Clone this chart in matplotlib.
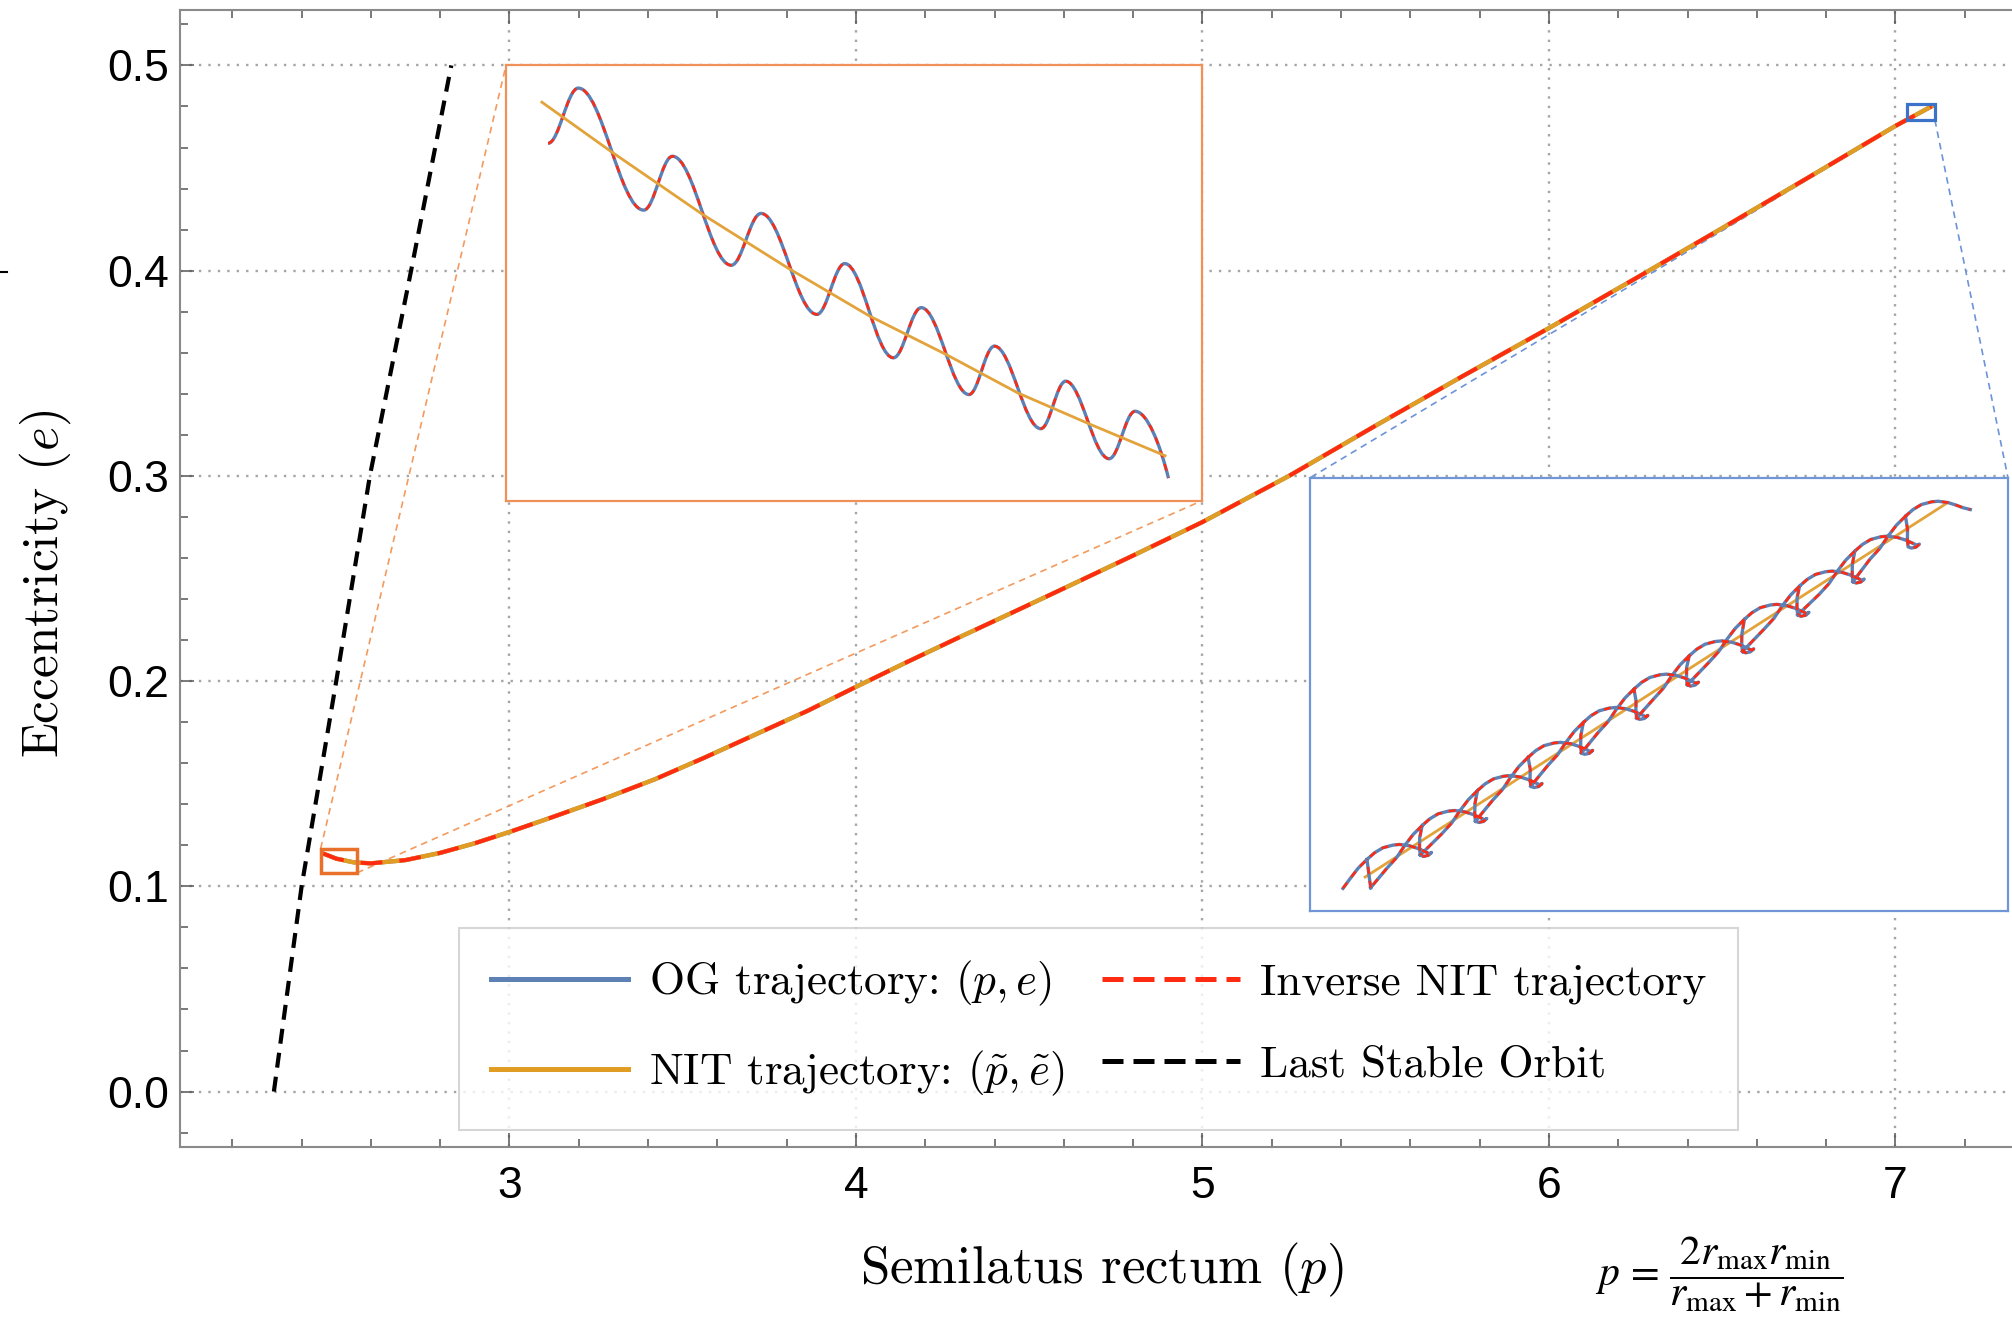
import numpy as np
import matplotlib
matplotlib.use("Agg")
import matplotlib.pyplot as plt
from matplotlib.path import Path
from matplotlib.patches import PathPatch, Rectangle
from matplotlib.lines import Line2D
from matplotlib.ticker import FormatStrFormatter

plt.rcParams['font.family'] = 'Liberation Sans'
plt.rcParams['mathtext.fontset'] = 'cm'

# ---- main trajectory (p, e) ----
traj_p = [2.462, 2.50, 2.55, 2.60, 2.70, 2.80, 2.90, 3.00, 3.12, 3.27, 3.42, 3.56, 3.71,
          3.86, 4.00, 4.15, 4.30, 4.44, 4.60, 4.80, 5.00, 5.25, 5.50, 5.75, 6.00, 6.25,
          6.50, 6.75, 7.00, 7.104]
traj_e = [0.1160, 0.1135, 0.1117, 0.1112, 0.1128, 0.1163, 0.1210, 0.1265, 0.1335, 0.1425,
          0.1522, 0.1625, 0.1740, 0.1855, 0.1972, 0.2095, 0.2215, 0.2325, 0.2452, 0.2612,
          0.2775, 0.3000, 0.3245, 0.3485, 0.3720, 0.3962, 0.4207, 0.4455, 0.4705, 0.4800]

# last stable orbit
lso_e = [0.0, 0.1, 0.2, 0.3, 0.4, 0.5]
lso_p = [2.32, 2.40, 2.50, 2.597, 2.716, 2.832]

# zoom windows (p0, p1, e0, e1) and where their insets sit (p0, p1, e0, e1)
lo_win = (2.455, 2.560, 0.1066, 0.1184)
hi_win = (7.033, 7.114, 0.4734, 0.4810)
lo_box = (2.99, 5.00, 0.288, 0.500)
hi_box = (5.31, 7.325, 0.088, 0.299)

# low-p zoom, as fractions of the window: extrema of the oscillating OG curve
lo_ext_u = [0.0604, 0.1037, 0.1978, 0.2390, 0.3235, 0.3661, 0.4464, 0.4863, 0.5563,
            0.5962, 0.6648, 0.7012, 0.7679, 0.8036, 0.8661, 0.9032, 0.9512]
lo_ext_v = [0.8210, 0.9478, 0.6674, 0.7911, 0.5407, 0.6598, 0.4278, 0.5445, 0.3280,
            0.4432, 0.2435, 0.3548, 0.1651, 0.2742, 0.0960, 0.2051, 0.0515]
lo_nit_u = [0.0515, 0.1511, 0.2816, 0.4038, 0.5220, 0.6319, 0.7349, 0.8400, 0.9464]
lo_nit_v = [0.9155, 0.8018, 0.6582, 0.5353, 0.4240, 0.3356, 0.2473, 0.1743, 0.1029]

# high-p zoom, as fractions of the window: arch tops and the shape of one arch
hi_top_u = [0.1285, 0.2076, 0.2868, 0.3593, 0.4384, 0.5109, 0.5900, 0.6691, 0.7482, 0.8273, 0.8998]
hi_top_v = [0.1536, 0.2320, 0.3126, 0.3894, 0.4700, 0.5469, 0.6237, 0.7081, 0.7849, 0.8656, 0.9462]
arch_du = [-0.0467, -0.0358, -0.0239, -0.0095, 0.0, 0.0143, 0.0262, 0.0358, 0.0429, 0.0458, 0.0410, 0.0343, 0.0296]
arch_dv = [-0.0346, -0.0192, -0.0077, -0.0015, 0.0, -0.0031, -0.0092, -0.0161, -0.0215, -0.0184, -0.0253, -0.0276, -0.0246]
arm_du = [0.0286, 0.0288]
arm_dv = [-0.0077, 0.0154]
tail_du = [-0.0596, -0.0716, -0.0835, -0.0978]
tail_dv = [-0.0553, -0.0806, -0.1091, -0.1344]
first_du = [-0.0811, -0.0716, -0.0596]
first_dv = [-0.1014, -0.0806, -0.0553]
last_du = [0.0143, 0.0262, 0.0358, 0.0462]
last_dv = [-0.0031, -0.0092, -0.0150, -0.0192]
hi_u0 = (0.0871, 0.0538)
hi_nit_u = [0.0791, 0.9130]
hi_nit_v = [0.0783, 0.9424]

C_OG = '#5E81B5'
C_NIT = '#E19C24'
C_INV = '#FF2A12'


def to_win(u, v, win):
    u = np.asarray(u, float)
    v = np.asarray(v, float)
    return win[0] + u * (win[1] - win[0]), win[2] + v * (win[3] - win[2])


def wave_path(x, y):
    """smooth curve through successive extrema (horizontal tangents)"""
    verts = [(x[0], y[0])]
    codes = [Path.MOVETO]
    n = len(x)
    for i in range(n - 1):
        dx = x[i + 1] - x[i]
        c1 = (x[i] + 0.3642 * dx, y[i])
        if i == n - 2:
            c2 = (x[i + 1] - 0.25 * dx, y[i + 1] + 0.5 * (y[i] - y[i + 1]))
        else:
            c2 = (x[i + 1] - 0.3642 * dx, y[i + 1])
        verts += [c1, c2, (x[i + 1], y[i + 1])]
        codes += [Path.CURVE4] * 3
    return Path(verts, codes)


def hi_curve():
    T = np.column_stack([hi_top_u, hi_top_v])
    A = np.column_stack([arch_du, arch_dv])
    arm = np.column_stack([arm_du, arm_dv])
    tail = np.column_stack([tail_du, tail_dv])
    chain = [T[0] + np.column_stack([first_du, first_dv])]
    for k in range(len(T)):
        if k < len(T) - 1:
            chain.append(T[k] + A)
            chain.append(T[k] + arm)
        else:
            chain.append(T[k] + A[:5])
            chain.append(T[k] + np.column_stack([last_du, last_dv]))
    pieces = [np.vstack(chain), np.vstack([hi_u0, T[0] + A[0]])]
    U = T[:-1] + A[-1]
    for k in range(1, len(T)):
        end = hi_u0 if k == 1 else U[k - 2]
        pieces.append(np.vstack([T[k] + A[0], T[k] + tail, end]))
    out = []
    for pc in pieces:
        out.append(pc)
        out.append([[np.nan, np.nan]])
    return np.vstack(out)


fig = plt.figure(figsize=(20.12, 13.24), dpi=100)
ax = fig.add_axes([0.08946, 0.13369, 0.92147, 0.85876])
ax.set_xlim(2.049, 7.40)
ax.set_ylim(-0.027, 0.527)

ax.set_xticks([3, 4, 5, 6, 7])
ax.set_xticks(np.arange(2.2, 7.41, 0.2), minor=True)
ax.set_yticks(np.arange(0, 0.51, 0.1))
ax.set_yticks(np.arange(-0.02, 0.53, 0.02), minor=True)
ax.yaxis.set_major_formatter(FormatStrFormatter('%.1f'))
ax.tick_params(which='both', direction='in', top=True, right=True, color='#555555', width=1.1)
ax.tick_params(which='major', length=10, labelsize=32)
ax.tick_params(which='minor', length=6)
ax.tick_params(axis='x', pad=14)
ax.tick_params(axis='y', pad=8)
for s in ax.spines.values():
    s.set_color('#8a8a8a')
    s.set_linewidth(1.5)
ax.set_axisbelow(True)
ax.grid(True, which='major', color='#a5a5a5', lw=1.7, linestyle=(0, (1, 3)))

# connectors from the small windows to the insets
ax.plot([lo_win[0], lo_box[0]], [lo_win[3], lo_box[3]], color='#F39A5E', lw=1.2, dashes=(4, 3), zorder=1.5)
ax.plot([lo_win[1], lo_box[1]], [lo_win[2], lo_box[2]], color='#F39A5E', lw=1.2, dashes=(4, 3), zorder=1.5)
ax.plot([hi_win[0], hi_box[0]], [hi_win[2], hi_box[3]], color='#6D93DA', lw=1.2, dashes=(4, 3), zorder=1.5)
ax.plot([hi_win[1], hi_box[1]], [hi_win[2], hi_box[3]], color='#6D93DA', lw=1.2, dashes=(4, 3), zorder=1.5)

ax.plot(lso_p, lso_e, color='k', lw=3.0, dashes=(3.6, 2.2), zorder=3)
ax.plot(traj_p, traj_e, color=C_OG, lw=3.0, zorder=3.1)
ax.plot(traj_p, traj_e, color=C_NIT, lw=3.2, zorder=3.2)
ax.plot(traj_p, traj_e, color=C_INV, lw=2.8, dashes=(5.6, 4.4), zorder=3.3)

ax.add_patch(Rectangle((lo_win[0], lo_win[2]), lo_win[1] - lo_win[0], lo_win[3] - lo_win[2],
                       fill=False, ec='#E8702A', lw=2.5, zorder=5))
ax.add_patch(Rectangle((hi_win[0], hi_win[2]), hi_win[1] - hi_win[0], hi_win[3] - hi_win[2],
                       fill=False, ec='#3D72C9', lw=2.3, zorder=5))

# ---- insets ----
def make_inset(box, win, edge):
    ia = ax.inset_axes([box[0], box[2], box[1] - box[0], box[3] - box[2]], transform=ax.transData)
    ia.set_xlim(win[0], win[1])
    ia.set_ylim(win[2], win[3])
    ia.set_xticks([])
    ia.set_yticks([])
    for s in ia.spines.values():
        s.set_color(edge)
        s.set_linewidth(1.6)
    return ia


lo_ax = make_inset(lo_box, lo_win, '#F0915A')
nx, ny = to_win(lo_nit_u, lo_nit_v, lo_win)
lo_ax.plot(nx, ny, color='#E3A33B', lw=2.0)
wx, wy = to_win(lo_ext_u, lo_ext_v, lo_win)
wp = wave_path(wx, wy)
lo_ax.add_patch(PathPatch(wp, fill=False, ec=C_OG, lw=2.4))
lo_ax.add_patch(PathPatch(wp, fill=False, ec=C_INV, lw=1.8, linestyle=(0, (2.8, 2.8))))

hi_ax = make_inset(hi_box, hi_win, '#7096D8')
nx, ny = to_win(hi_nit_u, hi_nit_v, hi_win)
hi_ax.plot(nx, ny, color='#E3A33B', lw=2.0)
hc = hi_curve()
hx, hy = to_win(hc[:, 0], hc[:, 1], hi_win)
hi_ax.plot(hx, hy, color=C_OG, lw=2.4)
hi_ax.plot(hx, hy, color=C_INV, lw=1.8, dashes=(2.8, 2.8))

# ---- legend ----
handles = [Line2D([], [], color=C_OG, lw=3.6),
           Line2D([], [], color=C_NIT, lw=3.6),
           Line2D([], [], color=C_INV, lw=3.6, dashes=(4.2, 2.0)),
           Line2D([], [], color='k', lw=3.6, dashes=(4.2, 2.0))]
labels = ['OG trajectory: $(p, e)$', r'NIT trajectory: $(\tilde{p}, \tilde{e})$',
          'Inverse NIT trajectory', 'Last Stable Orbit']
leg = ax.legend(handles, labels, ncol=2, loc='lower left', bbox_to_anchor=(0.1505, 0.015),
                prop={'family': 'cmr10', 'size': 32.5}, frameon=True, fancybox=False,
                edgecolor='#cccccc', handlelength=3.05, handletextpad=0.45,
                columnspacing=0.85, labelspacing=0.9, borderpad=0.7, borderaxespad=0)
leg.get_frame().set_linewidth(1.5)
leg.set_zorder(10)

# ---- axis titles and formula ----
fig.text(0.0224, 0.559, 'Eccentricity $(e)$', rotation=90, family='cmr10', size=37,
         ha='center', va='center')
fig.text(0.5477, 0.0408, 'Semilatus rectum $(p)$', family='cmr10', size=38,
         ha='center', va='center')
fig.text(0.8544, 0.0375, r'$p\,=\,\dfrac{2r_{\max}r_{\min}}{r_{\max}+r_{\min}}$',
         math_fontfamily='stix', size=30, ha='center', va='center')

# crop mark at the left edge of the page
fig.add_artist(Line2D([0, 0.0035], [0.7946, 0.7946], color='k', lw=1.5))

fig.savefig('out.png', dpi=100)
